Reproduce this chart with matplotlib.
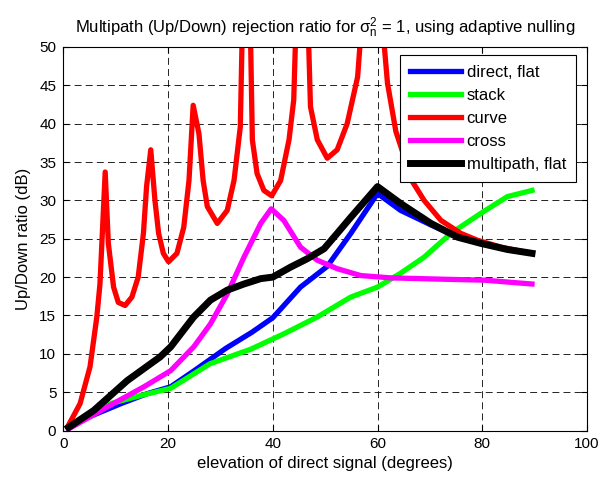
import numpy as np
import matplotlib
matplotlib.use('Agg')
import matplotlib.pyplot as plt

plt.rcParams['font.family'] = ['Liberation Sans', 'DejaVu Sans']
plt.rcParams['mathtext.fontset'] = 'custom'
plt.rcParams['mathtext.rm'] = 'Liberation Sans'
plt.rcParams['mathtext.it'] = 'Liberation Sans'
plt.rcParams['lines.scale_dashes'] = False

# direct, flat
direct_x = [1, 5, 11, 16, 20.5, 25, 31, 36, 40, 45.3, 50.4, 54.9, 60, 64.4, 70.2, 75.3, 79.7, 84.8, 89.5]
direct_y = [0.4, 1.8, 3.5, 4.8, 5.7, 7.8, 10.7, 12.8, 14.7, 18.7, 21.4, 25.7, 30.9, 28.7, 26.8, 25.2, 24.4, 23.6, 23.1]

# stack
stack_x = [1, 5, 9, 15, 20.5, 28, 35.8, 42.1, 48.5, 54.9, 60, 64.4, 68.9, 74, 79.7, 84.8, 89.5]
stack_y = [0.4, 2.0, 3.5, 4.6, 5.5, 8.7, 10.6, 12.6, 14.8, 17.4, 18.7, 20.5, 22.6, 25.7, 28.3, 30.5, 31.3]

# curve
curve_x = [1, 3.2, 5.1, 6.4, 7.0, 8.0, 8.6, 9.6, 10.5, 11.8, 13.1, 14.3, 15.3, 15.9, 16.7,
           17.5, 18.2, 19.1, 20.1, 21.7, 23.0, 24.0, 24.8, 25.9, 26.7, 27.5, 29.4, 31.3,
           32.6, 33.8, 35.0, 36.1, 37.0, 38.3, 39.8, 41.5, 43.1, 44.0, 45.6, 47.2, 48.5,
           50.4, 52.3, 54.2, 56.2, 58.8, 61.9, 63.5, 66.7, 68.9, 72.1, 75.9, 79.1, 83.6, 89.5]
curve_y = [0.7, 3.5, 8.3, 14.8, 19.1, 33.7, 24.4, 18.7, 16.7, 16.3, 17.4, 20.0, 25.7, 31.8, 36.6,
           30.0, 25.7, 23.1, 22.0, 23.1, 26.5, 32.6, 42.4, 38.7, 32.6, 29.2, 27.0, 28.7,
           32.6, 39.6, 80.0, 37.9, 33.5, 31.3, 30.6, 32.6, 37.9, 43.1, 80.0, 42.2, 37.9,
           35.5, 36.6, 40.0, 46.1, 70.0, 45.3, 39.0, 32.4, 30.0, 27.4, 25.7, 24.8, 23.9, 23.1]

# cross
cross_x = [1, 9, 15.4, 20.5, 24.9, 28.1, 31.3, 34.5, 37.7, 39.7, 42.1, 45.3, 48.5, 52.3, 56.8, 62.5, 74, 80.4, 89.5]
cross_y = [0.2, 3.3, 5.7, 7.8, 10.9, 13.9, 17.8, 22.6, 27.0, 28.9, 27.4, 23.9, 22.2, 21.1, 20.2, 19.9, 19.7, 19.6, 19.1]

# multipath, flat
multi_x = [1, 5.8, 12.2, 18.5, 20.5, 24.9, 28.1, 31.3, 34.5, 37.7, 40, 43.4, 46.6, 49.8, 52.3, 54.9, 60,
           64.4, 70.2, 75.3, 79.7, 84.8, 89.5]
multi_y = [0.4, 2.6, 6.5, 9.6, 10.9, 14.8, 17.0, 18.3, 19.1, 19.8, 20.0, 21.3, 22.4, 23.7, 25.7, 27.8, 31.8,
           29.6, 27.0, 25.2, 24.4, 23.6, 23.1]

fig = plt.figure(figsize=(6.13, 4.79), dpi=100)
ax = fig.add_axes([63.3 / 613, 1 - 430.5 / 479, (587 - 63.3) / 613, (430.5 - 47) / 479])

ax.plot(direct_x, direct_y, color='blue', lw=3.8, label='direct, flat')
ax.plot(stack_x, stack_y, color='#00ff00', lw=3.8, label='stack')
ax.plot(curve_x, curve_y, color='red', lw=3.8, label='curve')
ax.plot(cross_x, cross_y, color='magenta', lw=3.8, label='cross')
ax.plot(multi_x, multi_y, color='black', lw=5.0, label='multipath, flat')

ax.set_xlim(0, 100)
ax.set_ylim(0, 50)
ax.set_xticks(np.arange(0, 101, 20))
ax.set_yticks(np.arange(0, 51, 5))
ax.grid(True, color='black', lw=0.6, linestyle=(0, (5, 3)))
ax.tick_params(direction='in', top=True, right=True, length=4, labelsize=11, pad=5)
for s in ax.spines.values():
    s.set_linewidth(0.8)

ax.set_xlabel('elevation of direct signal (degrees)', fontsize=12, labelpad=3)
ax.set_ylabel('Up/Down ratio (dB)', fontsize=12, labelpad=6)
ax.set_title(r'Multipath (Up/Down) rejection ratio for $\mathrm{\sigma_n^2}$ = 1, using adaptive nulling',
             fontsize=12, pad=10)

leg = ax.legend(loc='upper right', bbox_to_anchor=(0.979, 0.979), fontsize=12, fancybox=False,
                framealpha=1, edgecolor='black', handlelength=3.06, labelspacing=0.48,
                borderaxespad=0, handletextpad=0.35, borderpad=0.6)
leg.get_frame().set_linewidth(0.8)

plt.savefig('out.png', dpi=100)
